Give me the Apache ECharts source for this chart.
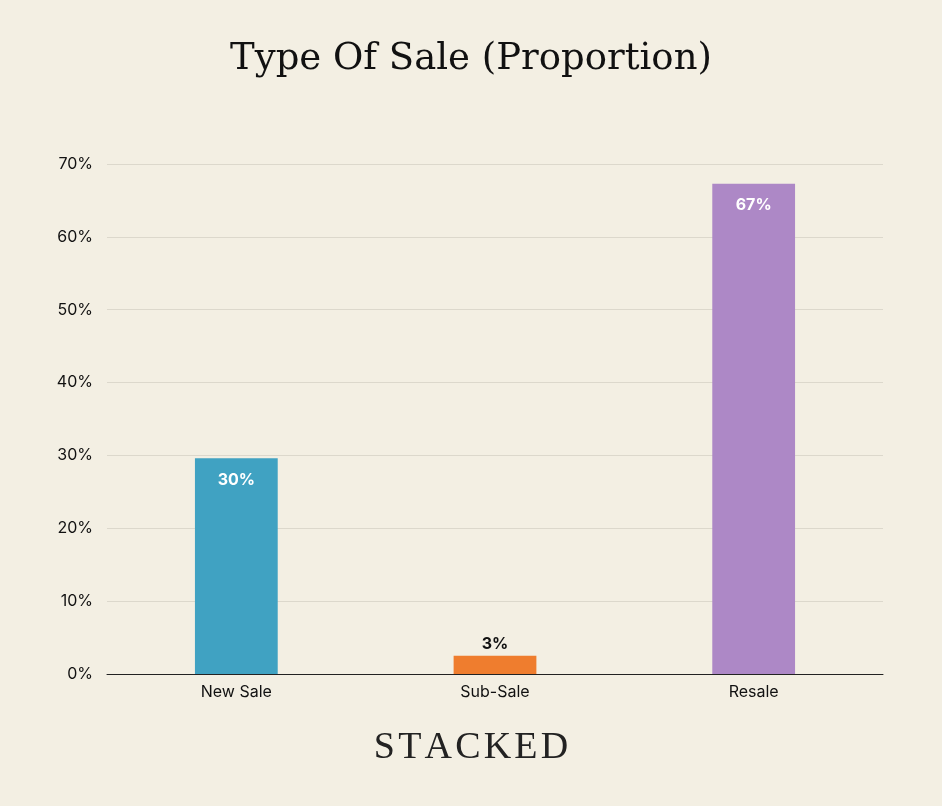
<!DOCTYPE html>
<html><head><meta charset="utf-8">
<script src="https://cdn.jsdelivr.net/npm/echarts@6/dist/echarts.min.js"></script>
<style>html,body{margin:0;padding:0;background:#f3efe3}#c{width:942px;height:806px}</style>
</head><body><div id="c"></div>
<script>
const categories = ['New Sale', 'Sub-Sale', 'Resale'];
const values = [29.6, 2.5, 67.3];
const labels = ['30%', '3%', '67%'];
const colors = ['#40a2c2', '#ef7d2e', '#ad88c6'];
const chart = echarts.init(document.getElementById('c'));
chart.setOption({
  backgroundColor: '#f3efe3',
  title: [{text: 'Type Of Sale (Proportion)', left: 'center', top: 36,
    textStyle: {fontFamily: 'DejaVu Serif', fontWeight: 'normal', fontSize: 37, color: '#111'}},
    {text: 'S\u200aT\u200aA\u200aC\u200aK\u200aE\u200aD', left: 'center', top: 724,
    textStyle: {fontFamily: 'Liberation Serif', fontWeight: 'normal', fontSize: 38, color: '#222'}}],
  grid: {left: 107, right: 59, top: 164, bottom: 132},
  xAxis: {type: 'category', data: categories,
    axisLine: {lineStyle: {color: '#222'}}, axisTick: {show: false},
    axisLabel: {fontFamily: 'Inter', fontSize: 16, color: '#111', margin: 10}},
  yAxis: {type: 'value', min: 0, max: 70, interval: 10,
    axisLabel: {formatter: '{value}%', fontFamily: 'Inter', fontSize: 16, color: '#111', margin: 14},
    splitLine: {lineStyle: {color: '#dcd8cc'}}},
  series: [{type: 'bar', barWidth: '32%',
    data: values.map((v, i) => ({value: v, itemStyle: {color: colors[i]},
      label: {show: true, position: i === 1 ? 'top' : 'insideTop', distance: i === 1 ? 4 : 14,
        formatter: labels[i], color: i === 1 ? '#111' : '#fff', fontWeight: 'bold', fontFamily: 'Inter', fontSize: 16}}))
  }]
});
</script></body></html>
